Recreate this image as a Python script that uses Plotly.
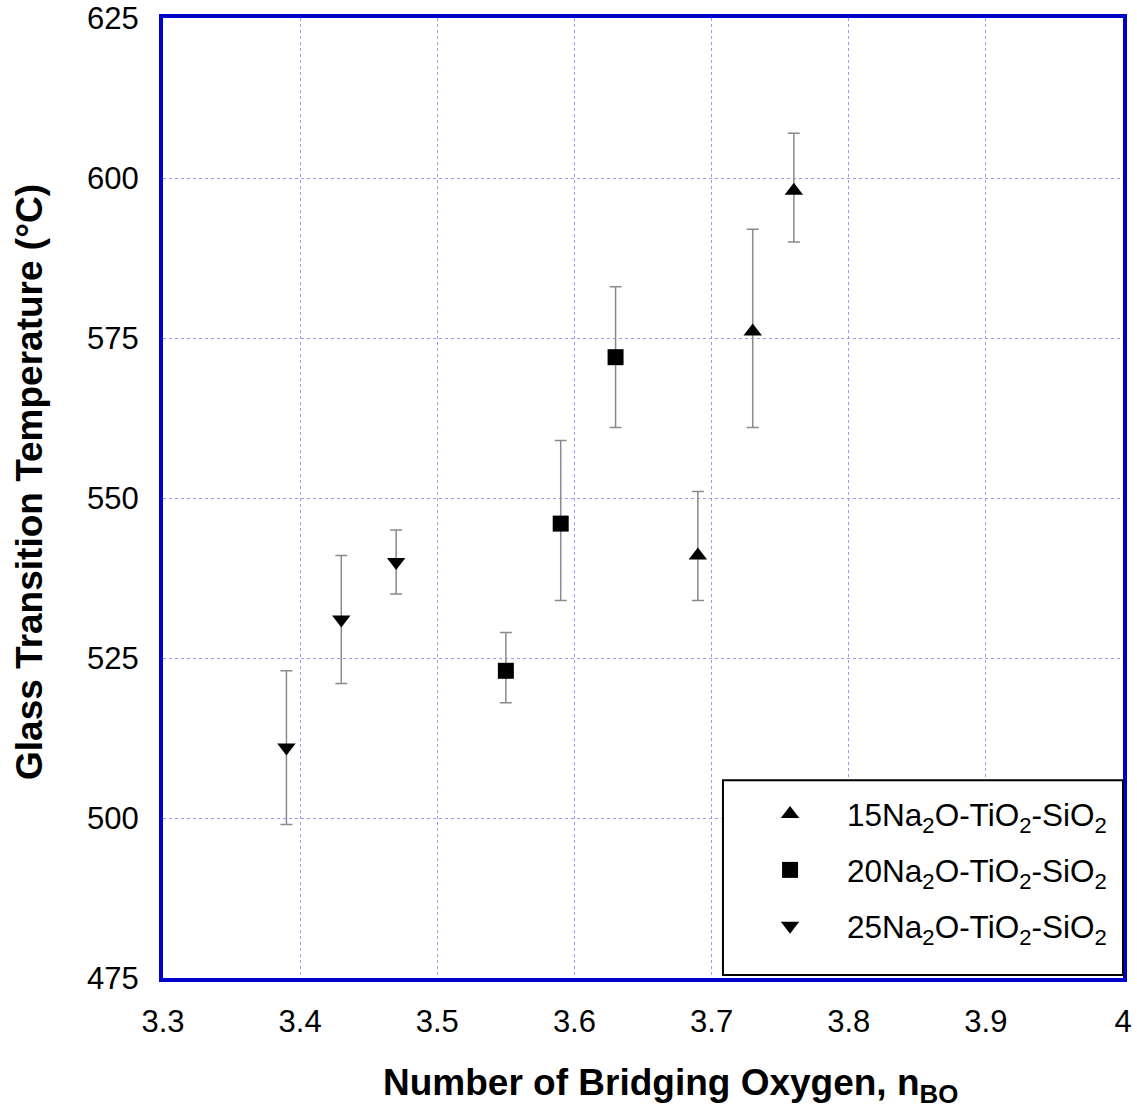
import plotly.graph_objects as go

# 15Na2O-TiO2-SiO2
x15 = [3.69, 3.73, 3.76]
y15 = [541, 576, 598]
hi15 = [551, 592, 607]
lo15 = [534, 561, 590]
# 20Na2O-TiO2-SiO2
x20 = [3.55, 3.59, 3.63]
y20 = [523, 546, 572]
hi20 = [529, 559, 583]
lo20 = [518, 534, 561]
# 25Na2O-TiO2-SiO2
x25 = [3.39, 3.43, 3.47]
y25 = [511, 531, 540]
hi25 = [523, 541, 545]
lo25 = [499, 521, 535]

xticks = [3.3, 3.4, 3.5, 3.6, 3.7, 3.8, 3.9, 4.0]
xticktext = ["3.3", "3.4", "3.5", "3.6", "3.7", "3.8", "3.9", "4"]
yticks = [475, 500, 525, 550, 575, 600, 625]

series = [
    ("15Na<sub>2</sub>O-TiO<sub>2</sub>-SiO<sub>2</sub>", x15, y15, hi15, lo15, "triangle-up"),
    ("20Na<sub>2</sub>O-TiO<sub>2</sub>-SiO<sub>2</sub>", x20, y20, hi20, lo20, "square"),
    ("25Na<sub>2</sub>O-TiO<sub>2</sub>-SiO<sub>2</sub>", x25, y25, hi25, lo25, "triangle-down"),
]

fig = go.Figure()
for i, (name, xs, ys, hi, lo, sym) in enumerate(series):
    fig.add_trace(go.Scatter(
        x=xs, y=ys, mode="markers", name=name, legendgroup=f"g{i}",
        marker=dict(symbol=sym, size=16, color="black"),
        error_y=dict(type="data", symmetric=False,
                     array=[h - v for h, v in zip(hi, ys)],
                     arrayminus=[v - l for v, l in zip(ys, lo)],
                     color="#8a8a8a", thickness=1.5, width=6),
    ))

axis_common = dict(
    showline=True, linecolor="#0000cc", linewidth=4, mirror=True,
    showgrid=True, gridcolor="#9a9af5", gridwidth=1, griddash="dot",
    zeroline=False, ticks="", tickfont=dict(size=31, color="black"),
    automargin=False, ticklabeloverflow="allow",
)

fig.update_layout(
    width=1137, height=1116,
    margin=dict(l=163, r=14, t=18, b=138),
    paper_bgcolor="white", plot_bgcolor="white",
    font=dict(family="Liberation Sans, Arial, sans-serif", color="black"),
    xaxis=dict(range=[3.3, 4.0], tickvals=xticks, ticktext=xticktext,
               ticklabelstandoff=13, **axis_common),
    yaxis=dict(range=[475, 625], tickvals=yticks,
               ticklabelstandoff=14, **axis_common),
    legend=dict(x=0.5938, y=0.199, xanchor="left", yanchor="top",
                bgcolor="rgba(0,0,0,0)", borderwidth=0,
                font=dict(size=31.5, color="black"),
                itemwidth=104, tracegroupgap=12),
    showlegend=True,
    shapes=[dict(type="rect", xref="paper", yref="paper",
                 x0=0.5833, x1=1.0, y0=0.003, y1=0.206,
                 fillcolor="white", line=dict(color="black", width=2),
                 layer="above")],
    annotations=[
        dict(text="<b>Number of Bridging Oxygen, n<sub>BO</sub></b>",
             xref="paper", yref="paper", x=(670 - 163) / 960, y=-(1085 - 978) / 960,
             xanchor="center", yanchor="middle", showarrow=False,
             font=dict(size=37)),
        dict(text="<b>Glass Transition Temperature (°C)</b>",
             xref="paper", yref="paper", x=-(163 - 30) / 960, y=(978 - 482) / 960,
             xanchor="center", yanchor="middle", showarrow=False,
             textangle=-90, font=dict(size=37)),
    ],
)

fig.write_html("out.html", config={"displayModeBar": False},
               post_script="document.body.style.margin='0px';")
